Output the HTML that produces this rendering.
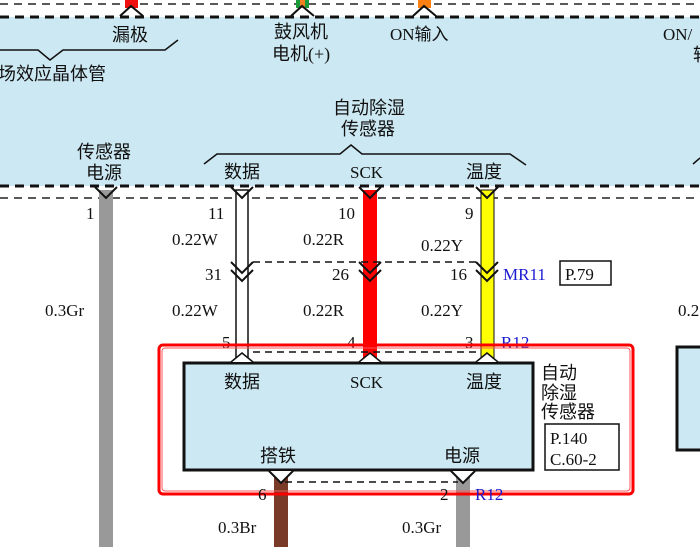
<!DOCTYPE html>
<html><head><meta charset="utf-8"><style>
html,body{margin:0;padding:0;background:#fff;}
svg{display:block;}
text{font-family:"Liberation Serif","Noto Sans CJK SC",serif;font-size:17px;fill:#111;}
.c{font-family:"Liberation Serif","Noto Sans CJK SC",sans-serif;font-size:18px;}
.b{fill:#1a1ad0;}
</style></head><body>
<svg width="700" height="547" viewBox="0 0 700 547" xmlns="http://www.w3.org/2000/svg">
<rect x="0" y="17" width="700" height="169" fill="#cce8f2"/>
<line x1="0" y1="4" x2="700" y2="4" stroke="#222" stroke-width="1.5" stroke-dasharray="8,6"/>
<line x1="0" y1="17" x2="700" y2="17" stroke="#111" stroke-width="3" stroke-dasharray="9,6"/>
<line x1="0" y1="186" x2="700" y2="186" stroke="#111" stroke-width="3" stroke-dasharray="9,6"/>
<line x1="0" y1="198" x2="700" y2="198" stroke="#222" stroke-width="1.5" stroke-dasharray="8,6"/>
<rect x="125" y="0" width="13" height="8" fill="#f01010"/>
<rect x="296" y="0" width="13" height="8" fill="#1a9a3a"/><rect x="300" y="0" width="5" height="8" fill="#f08020"/>
<rect x="418" y="0" width="13" height="8" fill="#ff8010"/>
<g fill="none" stroke="#111" stroke-width="2">
<polyline points="120,16 131,6 143,16"/>
<polyline points="291,16 302,6 314,16"/>
<polyline points="413,16 424,6 436,16"/>
</g>
<text x="112" y="41" class="c">漏极</text>
<text x="274" y="38" class="c">鼓风机</text>
<text x="272" y="60" class="c">电机(+)</text>
<text x="390" y="40">ON输入</text>
<text x="663" y="40">ON/</text>
<text x="693" y="61" class="c">转</text>
<text x="-2" y="80" class="c">场效应晶体管</text>
<polyline points="0,50 38,50 50,60 63,50 165,50 178,40" fill="none" stroke="#111" stroke-width="1.5"/>
<text x="333" y="114" class="c">自动除湿</text>
<text x="341" y="135" class="c">传感器</text>
<polyline points="204,164 217,154 340,154 351,145 362,154 510,154 526,165" fill="none" stroke="#111" stroke-width="1.5"/>
<polyline points="693,164 700,158" fill="none" stroke="#111" stroke-width="1.5"/>
<text x="77" y="158" class="c">传感器</text>
<text x="86" y="179" class="c">电源</text>
<text x="224" y="178" class="c">数据</text>
<text x="350" y="178">SCK</text>
<text x="466" y="178" class="c">温度</text>
<rect x="99" y="190" width="14" height="357" fill="#999"/>
<rect x="236" y="190" width="12" height="172" fill="#fff" stroke="#111" stroke-width="1.5"/>
<rect x="363" y="190" width="14" height="172" fill="#f00"/>
<rect x="481" y="190" width="13" height="172" fill="#ff0" stroke="#111" stroke-width="1"/>
<rect x="274" y="472" width="14" height="75" fill="#7a3a28"/>
<rect x="456" y="472" width="14" height="75" fill="#999"/>
<g fill="none" stroke="#111" stroke-width="2">
<polyline points="95,187 106,198 117,187"/>
<polyline points="231,187 242,198 253,187"/>
<polyline points="359,187 370,198 381,187"/>
<polyline points="476,187 487,198 498,187"/>
</g>
<line x1="253" y1="262" x2="480" y2="262" stroke="#111" stroke-width="1.5" stroke-dasharray="7,5"/>
<g fill="none" stroke="#111" stroke-width="2">
<polyline points="231,262 242,273 253,262"/><polyline points="231,270 242,281 253,270"/>
<polyline points="359,262 370,273 381,262"/><polyline points="359,270 370,281 381,270"/>
<polyline points="476,262 487,273 498,262"/><polyline points="476,270 487,281 498,270"/>
</g>
<text x="208" y="219">11</text><text x="338" y="219">10</text><text x="465" y="219">9</text>
<text x="172" y="245">0.22W</text><text x="303" y="245">0.22R</text><text x="421" y="251">0.22Y</text>
<text x="205" y="280">31</text><text x="332" y="280">26</text><text x="450" y="280">16</text>
<text x="503" y="280" class="b">MR11</text>
<rect x="560" y="261" width="51" height="24" fill="#fff" stroke="#111" stroke-width="1.5"/>
<text x="565" y="280">P.79</text>
<text x="172" y="316">0.22W</text><text x="303" y="316">0.22R</text><text x="421" y="316">0.22Y</text>
<text x="45" y="316">0.3Gr</text>
<text x="678" y="316">0.22</text>
<text x="86" y="219">1</text>
<text x="222" y="348">5</text><text x="347" y="348">4</text><text x="465" y="348">3</text>
<text x="501" y="348" class="b">R12</text>
<line x1="253" y1="352" x2="480" y2="352" stroke="#111" stroke-width="1.5" stroke-dasharray="7,5"/>
<rect x="184" y="363" width="349" height="107" fill="#cce8f2" stroke="#111" stroke-width="3"/>
<g fill="#fff" stroke="#111" stroke-width="1.5">
<polyline points="231,362 242,353 253,362"/>
<polyline points="359,362 370,353 381,362"/>
<polyline points="476,362 487,353 498,362"/>
</g>
<g fill="#fff" stroke="#111" stroke-width="2"><polyline points="269,471 281,483 293,471"/><polyline points="451,471 463,483 475,471"/></g>
<line x1="285" y1="482" x2="458" y2="482" stroke="#111" stroke-width="1.5" stroke-dasharray="7,5"/>
<text x="224" y="388" class="c">数据</text>
<text x="350" y="388">SCK</text>
<text x="466" y="388" class="c">温度</text>
<text x="260" y="462" class="c">搭铁</text>
<text x="444" y="462" class="c">电源</text>
<text x="541" y="379" class="c">自动</text>
<text x="541" y="399" class="c">除湿</text>
<text x="541" y="418" class="c">传感器</text>
<rect x="545" y="424" width="74" height="46" fill="#fff" stroke="#111" stroke-width="1.5"/>
<text x="550" y="444">P.140</text>
<text x="550" y="465">C.60-2</text>
<rect x="677" y="347" width="30" height="103" fill="#cce8f2" stroke="#111" stroke-width="3"/>
<rect x="159" y="345" width="474" height="149" rx="4" fill="none" stroke="#f00" stroke-width="3"/>
<rect x="162" y="348" width="468" height="143" rx="3" fill="none" stroke="#f55" stroke-width="1"/>
<text x="258" y="500">6</text><text x="440" y="500">2</text>
<text x="475" y="500" class="b">R12</text>
<text x="218" y="533">0.3Br</text><text x="402" y="533">0.3Gr</text>
</svg>
</body></html>
